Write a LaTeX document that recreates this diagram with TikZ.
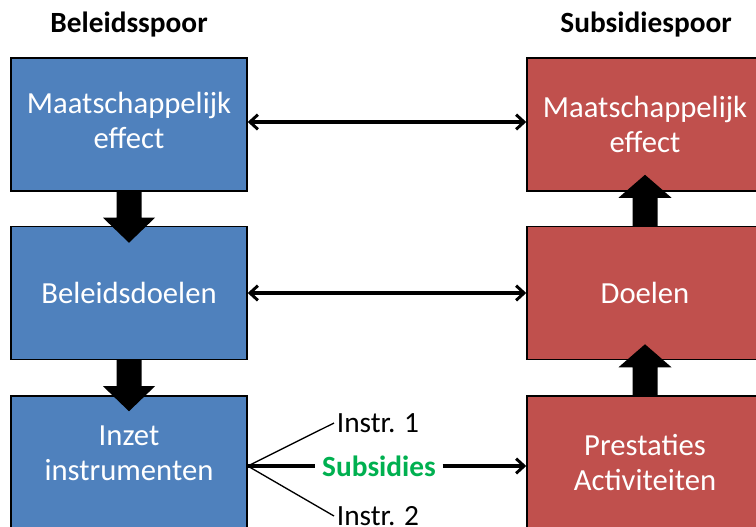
\documentclass[tikz,border=0pt]{standalone}
\usepackage{fontspec}
\setmainfont{Carlito}
\usetikzlibrary{arrows.meta,calc}
\definecolor{beleidblue}{HTML}{4F81BD}
\definecolor{subsidiered}{HTML}{C0504D}
\definecolor{subsgreen}{HTML}{00B050}
\tikzset{
  spoorbox/.style={draw=black, line width=1.1pt, minimum width=177pt, minimum height=99.75pt,
    align=center, text=white, inner sep=0pt, font=\fontsize{23}{26}\selectfont},
  beleid/.style={spoorbox, fill=beleidblue},
  subsidie/.style={spoorbox, fill=subsidiered},
  kop/.style={font=\fontsize{22}{26}\selectfont\bfseries},
  instr/.style={font=\fontsize{22}{26}\selectfont, inner sep=2pt},
  barb/.tip={Straight Barb[length=6pt,width=11pt,line width=2.2pt]},
  koppel/.style={line width=2.6pt, barb-barb},
}
\begin{document}
\begin{tikzpicture}[x=0.75pt,y=-0.75pt]
\useasboundingbox (0,0) rectangle (756,526);
\clip (0,0) rectangle (756,526);

% titels
\node[kop] (t_bel) at (129,25) {Beleidsspoor};
\node[kop] (t_sub) at (646,25) {Subsidiespoor};

% beleidsspoor
\node[beleid] (me_b) at (129,124.5) {Maatschappelijk\\effect\\[-20pt]\mbox{}};
\node[beleid] (doel_b) at (129,293) {Beleidsdoelen};
\node[beleid] (inzet) at (129,462.5) {Inzet\\instrumenten\\[-12pt]\mbox{}};

% subsidiespoor
\node[subsidie] (me_s) at (645,124.5) {Maatschappelijk\\effect};
\node[subsidie] (doel_s) at (645,293) {Doelen};
\node[subsidie] (prest) at (645,462.5) {Prestaties\\Activiteiten};

% dikke pijlen
\foreach \a in {me_b, doel_b}
  \fill ($(\a.south)+(-12.5,0)$) -- ++(0,26) -- ++(-13.5,0) -- ($(\a.south)+(0,51)$)
    -- ($(\a.south)+(26,26)$) -- ++(-13.5,0) -- ++(0,-26) -- cycle;
\foreach \a in {prest, doel_s}
  \fill ($(\a.north)+(-12.5,0)$) -- ++(0,-28) -- ++(-14,0) -- ($(\a.north)+(0,-51)$)
    -- ($(\a.north)+(26.5,-28)$) -- ++(-14,0) -- ++(0,28) -- cycle;

% koppelingen
\draw[koppel] ($(me_b.east)+(0,-2.5)$) -- ($(me_s.west)+(0,-2.5)$);
\draw[koppel] (doel_b.east) -- (doel_s.west);

% instrumenten
\coordinate (split) at ($(inzet.east)+(0,3.5)$);
\node[font=\fontsize{22}{26}\selectfont\bfseries, text=subsgreen, inner sep=5pt] (subs) at (split -| 379,0) {Subsidies};
\node[instr, anchor=west] (i1) at (334,423) {Instr. 1};
\node[instr, anchor=west] (i2) at (334,516) {Instr. 2};
\draw[line width=1pt] (split) -- (i1.west);
\draw[line width=1pt] (split) -- (i2.west);
\draw[line width=3pt] (split) -- (subs.west);
\draw[line width=3pt, -barb] (subs.east) -- (split -| prest.west);
\end{tikzpicture}
\end{document}
